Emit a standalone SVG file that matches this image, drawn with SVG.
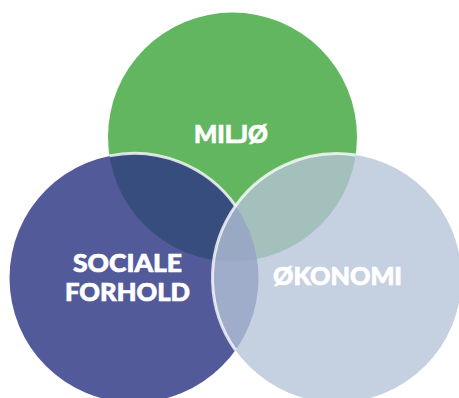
<svg xmlns="http://www.w3.org/2000/svg" width="459" height="398" viewBox="0 0 459 398">
  <style>
    .lbl { font-family: Lato, "Open Sans", "Liberation Sans", sans-serif; font-weight: 900; font-size: 24.5px; fill: #ffffff; stroke: #ffffff; stroke-width: 0.7; text-anchor: middle; }
    .edge { fill: none; stroke: #ffffff; stroke-opacity: 0.78; stroke-width: 3; }
  </style>
  <rect width="459" height="398" fill="#ffffff"/>
  <g id="miljo">
    <circle cx="232.5" cy="137" r="124.5" fill="#63b660"/>
  </g>
  <g id="sociale-forhold">
    <circle cx="134" cy="278" r="124.5" fill="#2c3684" fill-opacity="0.82"/>
  </g>
  <g id="okonomi">
    <circle cx="337" cy="278" r="124.5" fill="#b5c3d7" fill-opacity="0.78"/>
  </g>
  <g id="connectors">
    <path class="edge" d="M109.4,155.9 A124.5,124.5 0 0 1 235.5,205.9"/>
    <path class="edge" d="M355.7,154.9 A124.5,124.5 0 0 0 235.5,350.1"/>
  </g>
  <g id="labels">
    <text class="lbl" x="231" y="143" textLength="74" lengthAdjust="spacingAndGlyphs">MILJØ</text>
    <text class="lbl" x="127.5" y="272" textLength="109" lengthAdjust="spacingAndGlyphs">SOCIALE</text>
    <text class="lbl" x="127.5" y="301" textLength="125" lengthAdjust="spacingAndGlyphs">FORHOLD</text>
    <text class="lbl" x="337.5" y="285" textLength="129" lengthAdjust="spacingAndGlyphs">ØKONOMI</text>
  </g>
</svg>
